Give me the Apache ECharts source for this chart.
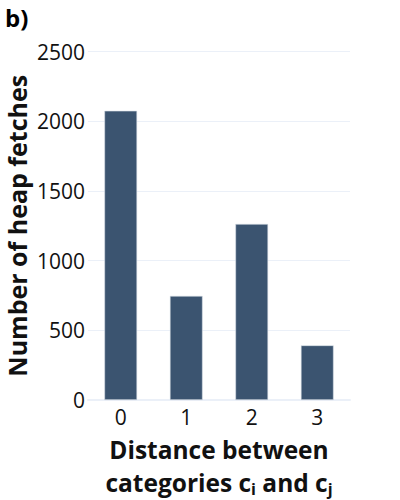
<!DOCTYPE html>
<html>
<head>
<meta charset="utf-8">
<script src="https://cdn.jsdelivr.net/npm/echarts@6/dist/echarts.min.js"></script>
<style>
html,body{margin:0;padding:0;background:#fff;}
#chart{width:400px;height:500px;}
</style>
</head>
<body>
<div id="chart"></div>
<script>
const categories = ['0', '1', '2', '3'];
const heapFetches = [2075, 747, 1263, 392];
const yTicks = [0, 500, 1000, 1500, 2000, 2500];

const FONT = '"Open Sans", sans-serif';
const chart = echarts.init(document.getElementById('chart'), null, {renderer: 'svg'});
chart.setOption({
  animation: false,
  backgroundColor: '#fff',
  title: {
    text: 'b)',
    left: 0,
    top: 0,
    textStyle: {fontFamily: FONT, fontWeight: 'bold', fontSize: 24, color: '#000'}
  },
  grid: {left: 88, right: 50, top: 51.5, bottom: 100, containLabel: false, outerBoundsMode: 'none'},
  xAxis: {
    type: 'category',
    data: categories,
    axisTick: {show: false},
    axisLine: {show: true, lineStyle: {color: '#EBF0F8', width: 2}},
    axisLabel: {fontFamily: FONT, fontSize: 21, color: '#111', margin: 6},
    name: '{b|Distance between}\n{b|categories c}{s|i}{b| and c}{s|j}',
    nameLocation: 'middle',
    nameMoveOverlap: false,
    nameGap: 33,
    nameTextStyle: {
      fontFamily: FONT,
      fontWeight: 'bold',
      fontSize: 24.5,
      color: '#111',
      verticalAlign: 'top',
      lineHeight: 33,
      rich: {
        b: {fontFamily: FONT, fontWeight: 'bold', fontSize: 24.5, color: '#111', lineHeight: 33},
        s: {fontFamily: FONT, fontWeight: 'bold', fontSize: 16, color: '#111', padding: [12, 0, 0, 0], lineHeight: 33}
      }
    }
  },
  yAxis: {
    type: 'value',
    min: yTicks[0],
    max: yTicks[yTicks.length - 1],
    interval: 500,
    axisLine: {show: false},
    axisTick: {show: false},
    splitLine: {lineStyle: {color: '#EBF0F8', width: 1}},
    axisLabel: {fontFamily: FONT, fontSize: 21, color: '#111', margin: 3, formatter: v => String(v)},
    name: 'Number of heap fetches',
    nameLocation: 'middle',
    nameMoveOverlap: false,
    nameGap: 59,
    nameTextStyle: {fontFamily: FONT, fontWeight: 'bold', fontSize: 25, color: '#111'}
  },
  series: [{
    type: 'bar',
    data: heapFetches,
    barWidth: '50%',
    itemStyle: {color: '#3b5470', borderColor: '#dbe2ea', borderWidth: 0.6}
  }]
});
</script>
</body>
</html>
